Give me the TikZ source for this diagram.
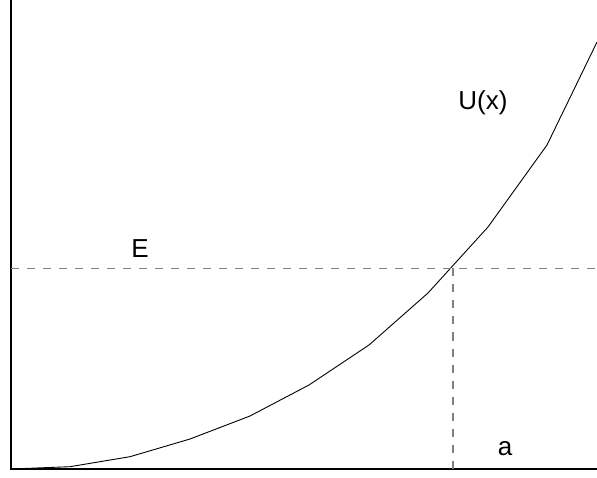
\documentclass[tikz,border=0pt]{standalone}
\usepackage{fontspec}
\setmainfont{Liberation Sans}
\usetikzlibrary{positioning}

\begin{document}
\begin{tikzpicture}[
    x=1pt, y=1pt,
    axis/.style={line width=1.3pt, black},
    curve/.style={line width=0.9pt, black, line join=round},
    level/.style={line width=1.3pt, gray, dash pattern=on 8pt off 8pt},
    lbl/.style={font=\fontsize{26}{30}\selectfont, inner sep=0pt}
]
\useasboundingbox (0,0) rectangle (597,477);

\coordinate (o) at (11,8);
\coordinate (ytop) at (11,477);
\coordinate (xend) at (597,8);
\coordinate (eleft) at (11,208.5);
\coordinate (eright) at (597,208.5);
\coordinate (acut) at (453,208.5);
\coordinate (afoot) at (453,8);

% axes
\draw[axis] (ytop) -- (o) -- (xend);

% potential
\draw[curve] (o) -- (70,10.3) -- (130,20.3) -- (190,38) -- (250,61) -- (309,92)
    -- (369,132) -- (428,184) -- (488,250) -- (547,332) -- (597,435);

% energy level and turning point
\draw[level] (eleft) -- (eright);
\draw[level] (acut) -- (afoot);

\node[lbl] (ulabel) at (483,374) {U(x)};
\node[lbl] (elabel) at (140,228.5) {E};
\node[lbl] (alabel) at (505,28) {a};

\end{tikzpicture}
\end{document}
